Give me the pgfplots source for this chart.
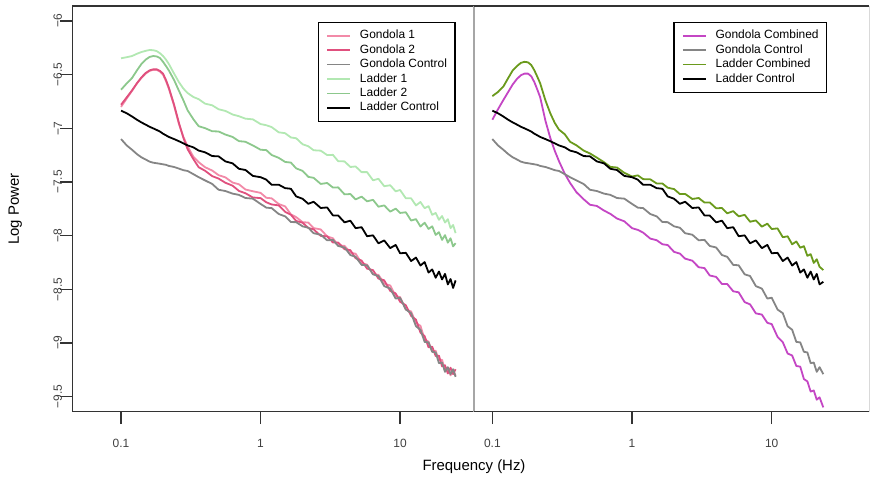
\documentclass[border=0pt]{standalone}
\usepackage{pgfplots}
\pgfplotsset{compat=1.18}
\usepackage{pgfplotstable}
\usepackage{fontspec}
\setmainfont{Liberation Sans}
\definecolor{gone}{HTML}{F28AA8}
\definecolor{gtwo}{HTML}{E0507E}
\definecolor{gctl}{HTML}{858585}
\definecolor{lone}{HTML}{B2E8B2}
\definecolor{ltwo}{HTML}{8CC88C}
\definecolor{gcomb}{HTML}{C446C4}
\definecolor{lcomb}{HTML}{6A9A1C}

\pgfplotstableread{
f L1 L2 GC LC G1 G2
0.10 -6.347 -6.640 -7.100 -6.835 -6.800 -6.780
0.11 -6.337 -6.580 -7.160 -6.860 -6.720 -6.710
0.12 -6.326 -6.530 -7.200 -6.890 -6.650 -6.645
0.13 -6.305 -6.460 -7.240 -6.920 -6.580 -6.580
0.14 -6.289 -6.400 -7.270 -6.945 -6.530 -6.525
0.15 -6.278 -6.360 -7.290 -6.965 -6.490 -6.485
0.16 -6.270 -6.335 -7.310 -6.985 -6.465 -6.460
0.17 -6.272 -6.326 -7.320 -7.000 -6.455 -6.450
0.18 -6.280 -6.330 -7.325 -7.015 -6.455 -6.450
0.19 -6.300 -6.345 -7.330 -7.030 -6.470 -6.465
0.20 -6.326 -6.380 -7.335 -7.050 -6.500 -6.490
0.21 -6.360 -6.420 -7.340 -7.065 -6.560 -6.550
0.22 -6.400 -6.460 -7.350 -7.080 -6.630 -6.620
0.24 -6.490 -6.550 -7.360 -7.100 -6.790 -6.780
0.26 -6.570 -6.650 -7.375 -7.120 -6.960 -6.950
0.28 -6.630 -6.740 -7.390 -7.140 -7.080 -7.090
0.30 -6.671 -6.832 -7.397 -7.159 -7.168 -7.194
0.33 -6.708 -6.915 -7.427 -7.177 -7.265 -7.287
0.36 -6.728 -6.980 -7.455 -7.207 -7.315 -7.362
0.40 -6.770 -6.998 -7.485 -7.223 -7.362 -7.395
0.45 -6.785 -7.027 -7.518 -7.258 -7.393 -7.445
0.50 -6.822 -7.029 -7.572 -7.261 -7.436 -7.468
0.56 -6.838 -7.058 -7.584 -7.308 -7.457 -7.507
0.63 -6.871 -7.080 -7.608 -7.326 -7.505 -7.534
0.70 -6.887 -7.119 -7.620 -7.377 -7.521 -7.583
0.78 -6.910 -7.125 -7.649 -7.388 -7.570 -7.605
0.88 -6.916 -7.159 -7.655 -7.443 -7.586 -7.644
1.00 -6.960 -7.199 -7.704 -7.455 -7.601 -7.650
1.10 -6.971 -7.203 -7.739 -7.478 -7.647 -7.689
1.20 -6.988 -7.248 -7.743 -7.526 -7.652 -7.709
1.35 -7.037 -7.275 -7.798 -7.525 -7.705 -7.718
1.50 -7.045 -7.313 -7.820 -7.557 -7.727 -7.778
1.65 -7.085 -7.319 -7.873 -7.563 -7.801 -7.805
1.80 -7.092 -7.373 -7.874 -7.634 -7.827 -7.863
2.00 -7.148 -7.396 -7.913 -7.656 -7.874 -7.879
2.20 -7.167 -7.452 -7.926 -7.703 -7.878 -7.928
2.40 -7.204 -7.461 -7.977 -7.684 -7.929 -7.941
2.70 -7.208 -7.518 -7.991 -7.742 -7.942 -8.002
3.00 -7.249 -7.509 -8.043 -7.737 -8.006 -8.006
3.30 -7.247 -7.551 -8.039 -7.811 -8.024 -8.063
3.60 -7.306 -7.550 -8.096 -7.812 -8.090 -8.064
4.00 -7.308 -7.615 -8.110 -7.876 -8.095 -8.126
4.40 -7.360 -7.612 -8.180 -7.860 -8.158 -8.135
4.80 -7.355 -7.662 -8.197 -7.930 -8.168 -8.210
5.30 -7.408 -7.636 -8.272 -7.921 -8.254 -8.232
5.80 -7.408 -7.680 -8.276 -8.005 -8.270 -8.307
6.40 -7.484 -7.666 -8.360 -7.997 -8.359 -8.321
7.00 -7.470 -7.730 -8.376 -8.071 -8.365 -8.400
7.70 -7.539 -7.718 -8.470 -8.044 -8.447 -8.416
8.50 -7.530 -7.776 -8.493 -8.116 -8.464 -8.515
9.30 -7.587 -7.748 -8.586 -8.086 -8.562 -8.538
10 -7.574 -7.788 -8.578 -8.164 -8.572 -8.616
11 -7.652 -7.782 -8.688 -8.160 -8.688 -8.648
12 -7.652 -7.859 -8.722 -8.236 -8.706 -8.748
13 -7.718 -7.846 -8.844 -8.204 -8.814 -8.782
14 -7.686 -7.915 -8.876 -8.278 -8.840 -8.904
15 -7.744 -7.879 -8.990 -8.246 -8.966 -8.936
16 -7.725 -7.937 -8.994 -8.344 -8.988 -9.040
17 -7.806 -7.913 -9.082 -8.314 -9.082 -9.034
18 -7.788 -7.993 -9.088 -8.392 -9.072 -9.122
19 -7.852 -7.967 -9.188 -8.334 -9.163 -9.118
20 -7.817 -8.039 -9.182 -8.408 -9.156 -9.218
21 -7.878 -7.995 -9.269 -8.356 -9.255 -9.207
22 -7.846 -8.065 -9.225 -8.454 -9.230 -9.284
23 -7.930 -8.024 -9.290 -8.404 -9.301 -9.230
24 -7.900 -8.100 -9.244 -8.487 -9.250 -9.290
25 -7.976 -8.070 -9.315 -8.417 -9.305 -9.244
}\lefttab

\pgfplotstableread{
f GCb GC LCb LC
0.10 -6.920 -7.100 -6.700 -6.835
0.11 -6.820 -7.160 -6.660 -6.860
0.12 -6.735 -7.200 -6.610 -6.890
0.13 -6.660 -7.240 -6.530 -6.920
0.14 -6.590 -7.270 -6.460 -6.945
0.15 -6.540 -7.290 -6.420 -6.965
0.16 -6.505 -7.310 -6.390 -6.985
0.17 -6.490 -7.320 -6.380 -7.000
0.18 -6.490 -7.325 -6.385 -7.015
0.19 -6.515 -7.330 -6.410 -7.030
0.20 -6.570 -7.335 -6.460 -7.050
0.21 -6.640 -7.340 -6.520 -7.065
0.22 -6.710 -7.350 -6.580 -7.080
0.24 -6.930 -7.360 -6.740 -7.100
0.26 -7.090 -7.375 -6.860 -7.120
0.28 -7.210 -7.390 -6.950 -7.140
0.30 -7.306 -7.397 -7.012 -7.159
0.33 -7.423 -7.427 -7.055 -7.177
0.36 -7.508 -7.455 -7.125 -7.207
0.40 -7.595 -7.485 -7.158 -7.223
0.45 -7.660 -7.518 -7.207 -7.258
0.50 -7.712 -7.572 -7.234 -7.261
0.56 -7.723 -7.584 -7.273 -7.308
0.63 -7.766 -7.608 -7.315 -7.326
0.70 -7.797 -7.620 -7.359 -7.377
0.78 -7.840 -7.649 -7.365 -7.388
0.88 -7.866 -7.655 -7.414 -7.443
1.00 -7.930 -7.704 -7.449 -7.455
1.10 -7.946 -7.739 -7.438 -7.478
1.20 -7.971 -7.743 -7.473 -7.526
1.35 -8.027 -7.798 -7.475 -7.525
1.50 -8.042 -7.820 -7.513 -7.557
1.65 -8.080 -7.873 -7.514 -7.563
1.80 -8.087 -7.874 -7.553 -7.634
2.00 -8.151 -7.913 -7.566 -7.656
2.20 -8.167 -7.926 -7.612 -7.703
2.40 -8.214 -7.977 -7.611 -7.684
2.70 -8.233 -7.991 -7.658 -7.742
3.00 -8.294 -8.043 -7.649 -7.737
3.30 -8.302 -8.039 -7.691 -7.811
3.60 -8.371 -8.096 -7.690 -7.812
4.00 -8.384 -8.110 -7.745 -7.876
4.40 -8.450 -8.180 -7.742 -7.860
4.80 -8.450 -8.197 -7.792 -7.930
5.30 -8.518 -8.272 -7.771 -7.921
5.80 -8.528 -8.276 -7.820 -8.005
6.40 -8.619 -8.360 -7.806 -7.997
7.00 -8.640 -8.376 -7.870 -8.071
7.70 -8.724 -8.470 -7.858 -8.044
8.50 -8.735 -8.493 -7.916 -8.116
9.30 -8.812 -8.586 -7.888 -8.086
10 -8.824 -8.578 -7.938 -8.164
11 -8.942 -8.688 -7.932 -8.160
12 -8.992 -8.722 -8.014 -8.236
13 -9.098 -8.844 -8.006 -8.204
14 -9.116 -8.876 -8.080 -8.278
15 -9.214 -8.990 -8.054 -8.246
16 -9.220 -8.994 -8.112 -8.344
17 -9.336 -9.082 -8.098 -8.314
18 -9.358 -9.088 -8.188 -8.392
19 -9.452 -9.188 -8.172 -8.334
20 -9.442 -9.182 -8.254 -8.408
21 -9.528 -9.269 -8.220 -8.356
22 -9.506 -9.225 -8.290 -8.454
23.4 -9.600 -9.290 -8.320 -8.430
}\righttab

\pgfplotsset{
  every axis plot/.append style={line width=1.8bp, line join=round},
}

\begin{document}
\begin{tikzpicture}
\useasboundingbox (0bp,0bp) rectangle (871bp,477bp);
\begin{axis}[at={(72.5bp,65.3bp)}, anchor=south west, scale only axis,
  width=401.5bp, height=405.7bp,
  xmode=log, xmin=0.04487, xmax=33.88, ymin=-9.64, ymax=-5.86, clip=false,
  axis line style={draw=none},
  xtick={0.1,1,10}, xticklabels={0.1,1,10}, xminorticks=false, yminorticks=false,
  ytick={-9.5,-9,-8.5,-8,-7.5,-7,-6.5,-6},
  yticklabels={−9.5,−9,−8.5,−8,−7.5,−7,−6.5,−6},
  xtick pos=bottom, ytick pos=left, tick align=outside, major tick length=12.5bp,
  tick style={line width=1.2bp, color=black!80},
  ticklabel style={font=\fontsize{12}{14}\selectfont, text=black!75},
  xticklabel style={anchor=north, inner sep=0pt},
  yticklabel style={rotate=90, anchor=south, inner sep=0pt, outer sep=-3.5bp},
  xticklabel shift=14.5bp, yticklabel shift=1.5bp,
  legend cell align=left,
  legend image code/.code={\draw[#1, line width=1.6bp] (0bp,0bp) -- (23bp,0bp);},
  legend style={at={(0.9544,0.9613)}, anchor=north east,
    draw=black, line width=1.3bp, fill=white,
    font=\fontsize{12}{14}\selectfont, inner xsep=8bp, inner ysep=8bp,
    row sep=3.4bp, nodes={inner sep=0pt, text height=8.6bp, text depth=2.4bp},
    /tikz/every odd column/.append style={column sep=9bp}}]
\addplot[gone] table[x=f,y=G1] {\lefttab};
\addlegendentry{Gondola 1}
\addplot[gtwo] table[x=f,y=G2] {\lefttab};
\addlegendentry{Gondola 2}
\addplot[gctl] table[x=f,y=GC] {\lefttab};
\addlegendentry{Gondola Control}
\addplot[lone] table[x=f,y=L1] {\lefttab};
\addlegendentry{Ladder 1}
\addplot[ltwo] table[x=f,y=L2] {\lefttab};
\addlegendentry{Ladder 2}
\addplot[black] table[x=f,y=LC] {\lefttab};
\addlegendentry{Ladder Control}
\draw[black!80, line width=1.3bp] (rel axis cs:1,1) -- (rel axis cs:0,1) -- (rel axis cs:0,0) -- (rel axis cs:1,0);
\draw[black!35, line width=1.2bp] (rel axis cs:1,0) -- (rel axis cs:1,1);
\end{axis}
\begin{axis}[at={(474bp,65.3bp)}, anchor=south west, scale only axis,
  width=395bp, height=405.7bp,
  xmode=log, xmin=0.07392, xmax=49.7, ymin=-9.64, ymax=-5.86, clip=false,
  axis line style={draw=none},
  xtick={0.1,1,10}, xticklabels={0.1,1,10}, xminorticks=false, yminorticks=false,
  ytick=\empty,
  xtick pos=bottom, tick align=outside, major tick length=12.5bp,
  tick style={line width=1.2bp, color=black!80},
  ticklabel style={font=\fontsize{12}{14}\selectfont, text=black!75},
  xticklabel style={anchor=north, inner sep=0pt},
  xticklabel shift=14.5bp,
  legend cell align=left,
  legend image code/.code={\draw[#1, line width=1.6bp] (0bp,0bp) -- (23bp,0bp);},
  legend style={at={(0.8944,0.9613)}, anchor=north east,
    draw=black, line width=1.3bp, fill=white,
    font=\fontsize{12}{14}\selectfont, inner xsep=8bp, inner ysep=8bp,
    row sep=3.4bp, nodes={inner sep=0pt, text height=8.6bp, text depth=2.4bp},
    /tikz/every odd column/.append style={column sep=9bp}}]
\addplot[gcomb] table[x=f,y=GCb] {\righttab};
\addlegendentry{Gondola Combined}
\addplot[gctl] table[x=f,y=GC] {\righttab};
\addlegendentry{Gondola Control}
\addplot[lcomb] table[x=f,y=LCb] {\righttab};
\addlegendentry{Ladder Combined}
\addplot[black] table[x=f,y=LC] {\righttab};
\addlegendentry{Ladder Control}
\draw[black!80, line width=1.3bp] (rel axis cs:0,1) -- (rel axis cs:1,1);
\draw[black!80, line width=1.3bp] (rel axis cs:0,0) -- (rel axis cs:1,0);
\draw[black!15, line width=1bp] (rel axis cs:1,0) -- (rel axis cs:1,1);
\end{axis}
\node[rotate=90, font=\fontsize{15}{18}\selectfont] at (15.3bp,268bp) {Log Power};
\node[font=\fontsize{15}{18}\selectfont] at (474bp,10.3bp) {Frequency (Hz)};
\end{tikzpicture}
\end{document}
